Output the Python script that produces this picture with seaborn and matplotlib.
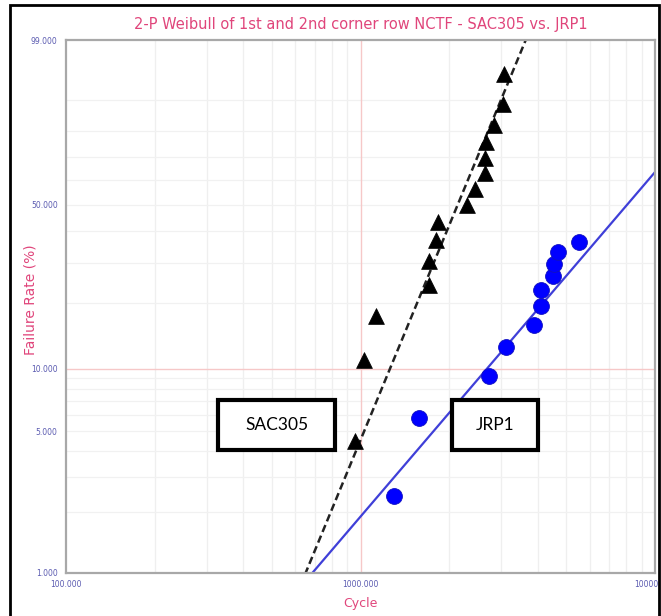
import numpy as np
import pandas as pd
import matplotlib
matplotlib.use("Agg")
import matplotlib.pyplot as plt
from matplotlib.patches import Rectangle
import seaborn as sns

# ---- data ----
sac_cycles = [961, 1024, 1125, 1703, 1703, 1799, 1828, 2294, 2442, 2641, 2641, 2661, 2833, 3041, 3064]
sac_rate = [4.5, 11.0, 17.5, 24.0, 30.5, 37.0, 43.5, 50.0, 56.5, 63.0, 69.5, 76.0, 82.5, 89.0, 95.5]
jrp_cycles = [1295, 1575, 2725, 3114, 3875, 4096, 4096, 4498, 4532, 4677, 5510]
jrp_rate = [2.4, 5.8, 9.2, 12.6, 16.0, 19.4, 22.8, 26.2, 29.6, 33.0, 36.4]
sac_beta, sac_eta = 3.56, 2370.0
jrp_beta, jrp_eta = 1.72, 9950.0
y_ticks = [1, 5, 10, 50, 99]
y_ticklabels = ["1.000", "5.000", "10.000", "50.000", "99.000"]
x_ticks = [100, 1000, 10000]
x_ticklabels = ["100.000", "1000.000", "10000.000"]
title = "2-P Weibull of 1st and 2nd corner row NCTF - SAC305 vs. JRP1"

sns.set_style("white")
plt.rcParams["font.family"] = ["DejaVu Sans"]

def fwd(p):
    p = np.clip(np.asarray(p, dtype=float), 1e-6, 100 - 1e-6)
    return np.log(-np.log(1 - p / 100.0))

def inv(w):
    return 100.0 * (1 - np.exp(-np.exp(np.asarray(w, dtype=float))))

W, H = 661.0, 616.0
fig = plt.figure(figsize=(6.61, 6.16), dpi=100)
ax = fig.add_axes([66 / W, 43 / H, 589 / W, 533 / H])
ax.set_xscale("log")
ax.set_yscale("function", functions=(fwd, inv))
ax.set_xlim(100, 10000)
ax.set_ylim(1, 99)

# grid
for v in list(range(200, 1000, 100)) + list(range(2000, 10000, 1000)):
    ax.axvline(v, color="#efefef", lw=0.9, zorder=0)
for v in list(range(2, 10)) + list(range(20, 100, 10)):
    ax.axhline(v, color="#f1f1f1", lw=0.9, zorder=0)
ax.axvline(1000, color="#f6c8c8", lw=1.0, zorder=0)
ax.axhline(10, color="#f6c8c8", lw=1.0, zorder=0)

# fitted lines
xs = np.geomspace(100, 10000, 400)
sac_line = pd.DataFrame({"x": xs, "y": inv(sac_beta * np.log(xs / sac_eta))})
jrp_line = pd.DataFrame({"x": xs, "y": inv(jrp_beta * np.log(xs / jrp_eta))})
sns.lineplot(data=sac_line, x="x", y="y", ax=ax, color="#222222", lw=1.8,
             linestyle=(0, (3, 1.6)), zorder=2)
sns.lineplot(data=jrp_line, x="x", y="y", ax=ax, color="#3f3fd8", lw=1.6, zorder=2)

# points
sac_df = pd.DataFrame({"Cycle": sac_cycles, "Rate": sac_rate})
jrp_df = pd.DataFrame({"Cycle": jrp_cycles, "Rate": jrp_rate})
sns.scatterplot(data=sac_df, x="Cycle", y="Rate", ax=ax, marker="^", s=130,
                color="black", edgecolor="black", linewidth=0.5, zorder=3)
sns.scatterplot(data=jrp_df, x="Cycle", y="Rate", ax=ax, marker="o", s=130,
                color="#0000ff", edgecolor="#1010c0", linewidth=0.6, zorder=3)

ax.set_xlim(100, 10000)
ax.set_ylim(1, 99)

# ticks
ax.set_yticks(y_ticks)
ax.set_yticklabels(y_ticklabels)
ax.set_xticks(x_ticks)
ax.set_xticklabels(x_ticklabels)
ax.minorticks_off()
ax.tick_params(axis="both", which="major", labelsize=5.5, labelcolor="#5a5ab0",
               color="#a0a0a0", length=4, width=0.8, direction="out")
ax.tick_params(axis="x", pad=1)
ax.tick_params(axis="y", pad=2)
for s in ax.spines.values():
    s.set_color("#a8a8a8")
    s.set_linewidth(1.6)

ax.set_xlabel("Cycle", color="#e0457b", fontsize=9)
ax.set_ylabel("Failure Rate (%)", color="#e0457b", fontsize=10)
ax.xaxis.set_label_coords(0.5, (573 - 604) / 533)
ax.yaxis.set_label_coords((30 - 66) / 589, (573 - 300) / 533)
ax.xaxis.label.set_va("center")
ax.yaxis.label.set_va("center")
ax.set_title(title, color="#e0457b", fontsize=10.5, pad=8)

# annotation boxes (figure pixel layout)
for (x0, x1, label) in [(218, 335, "SAC305"), (452, 538, "JRP1")]:
    y0, y1 = 400, 450
    fig.patches.append(Rectangle((x0 / W, 1 - y1 / H), (x1 - x0) / W, (y1 - y0) / H,
                                 transform=fig.transFigure, facecolor="white",
                                 edgecolor="black", lw=3, zorder=5))
    fig.text((x0 + x1) / 2 / W, 1 - (y0 + y1) / 2 / H, label, ha="center", va="center",
             fontsize=12.5, family=["Lato", "DejaVu Sans"], color="black", zorder=6)

# outer border
fig.patches.append(Rectangle((10 / W, -0.05), 649 / W, 1 - 5 / H + 0.05,
                             transform=fig.transFigure, fill=False,
                             edgecolor="black", lw=2, zorder=10))

fig.savefig("out.png", dpi=100)
